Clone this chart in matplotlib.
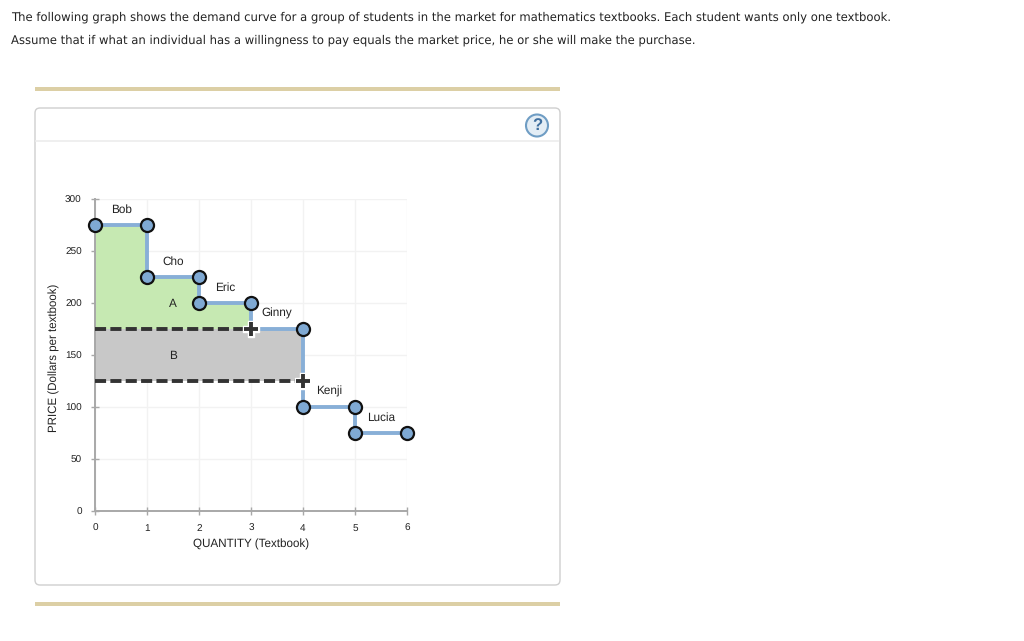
import matplotlib
matplotlib.use("Agg")
import matplotlib.pyplot as plt
from matplotlib.patches import FancyBboxPatch, Rectangle, Circle

W, H = 1024, 641

# demand steps, one per student
students = ["Bob", "Cho", "Eric", "Ginny", "Kenji", "Lucia"]
wtp = [275, 225, 200, 175, 100, 75]
qty_start = [0, 1, 2, 3, 4, 5]
qty_end = [1, 2, 3, 4, 5, 6]
label_x = [0.5, 1.5, 2.5, 3.5, 4.5, 5.5]
label_y = [290, 240, 215, 190, 115, 90]

# step ends that carry a circle (Ginny's left end sits under the price handle)
point_x = [0, 1, 1, 2, 2, 3, 4, 4, 5, 5, 6]
point_y = [275, 275, 225, 225, 200, 200, 175, 100, 100, 75, 75]

price_high = 175
price_low = 125
surplus_a_x = [0, 1, 1, 2, 2, 3, 3]
surplus_a_y = [275, 275, 225, 225, 200, 200, 175]
surplus_b_x = [0, 4]

x_ticks = [0, 1, 2, 3, 4, 5, 6]
y_ticks = [0, 50, 100, 150, 200, 250, 300]

line1 = "The following graph shows the demand curve for a group of students in the market for mathematics textbooks. Each student wants only one textbook."
line2 = "Assume that if what an individual has a willingness to pay equals the market price, he or she will make the purchase."

plt.rcParams["text.hinting"] = "no_hinting"
plt.rcParams["font.family"] = ["Liberation Sans", "DejaVu Sans"]
fig = plt.figure(figsize=(W / 100, H / 100), dpi=100)

# page furniture in pixel coords
bg = fig.add_axes([0, 0, 1, 1])
bg.set_xlim(0, W)
bg.set_ylim(H, 0)
bg.axis("off")
bg.text(11, 17, line1, fontsize=8.38, family="DejaVu Sans", color="#222222", va="center")
bg.text(11, 40, line2, fontsize=8.38, family="DejaVu Sans", color="#222222", va="center")
bg.add_patch(Rectangle((35, 86.5), 525, 4, color="#dccfa5", lw=0))
bg.add_patch(Rectangle((35, 602), 525, 4, color="#dccfa5", lw=0))
bg.add_patch(FancyBboxPatch((38, 111), 519, 471, boxstyle="round,pad=3,rounding_size=5",
                            fc="white", ec="#cfcfcf", lw=1))
bg.plot([36, 558], [140.5, 140.5], color="#ececec", lw=1.2)
bg.add_patch(Circle((537, 125.5), 11, fc="#e3edf5", ec="#6f9dc4", lw=1.5))
bg.text(537, 125.5, "?", fontsize=12, fontweight="bold", color="#3f6f9f", ha="center", va="center")

# chart itself
ax = fig.add_axes([95 / W, 1 - 511 / H, 312 / W, 312 / H])
ax.patch.set_alpha(0)
ax.set_xlim(0, 6)
ax.set_ylim(0, 300)
ax.set_xticks(x_ticks)
ax.set_yticks(y_ticks)
ax.grid(color="#f2f2f2", lw=1)
ax.set_axisbelow(True)
for s in ["top", "right"]:
    ax.spines[s].set_visible(False)
for s in ["left", "bottom"]:
    ax.spines[s].set_color("#a8a8a8")
    ax.spines[s].set_linewidth(1.4)
ax.tick_params(axis="both", direction="inout", length=6, width=1, color="#a8a8a8",
               labelsize=7.2, labelcolor="#222222")
ax.tick_params(axis="x", pad=6)
ax.tick_params(axis="y", pad=6.5)
ax.set_xlabel("QUANTITY (Textbook)", fontsize=8.4, color="#222222", labelpad=4.5)
ax.set_ylabel("PRICE (Dollars per textbook)", fontsize=8.3, color="#222222")
ax.yaxis.set_label_coords(-35 / 312, 0.49)

# shaded areas
ax.fill_between(surplus_a_x, surplus_a_y, price_high, color="#c6e9b2", lw=0, zorder=2)
ax.fill_between(surplus_b_x, price_low, price_high, color="#c8c8c8", lw=0, zorder=2)

# demand curve
steps_x = []
steps_y = []
for q0, q1, p in zip(qty_start, qty_end, wtp):
    steps_x += [q0, q1]
    steps_y += [p, p]
ax.plot(steps_x, steps_y, color="#88afd7", lw=2.8, zorder=3, solid_joinstyle="miter")

# price lines
ax.plot([0, 2.85], [price_high, price_high], color="#333333", lw=2.8, dashes=(2.85, 1.1), zorder=4)
ax.plot([0, 3.85], [price_low, price_low], color="#333333", lw=2.8, dashes=(2.85, 1.1), zorder=4)
ax.plot([3, 4], [price_high, price_low], ls="none", marker="P", ms=12, mfc="white", mec="white", zorder=5)
ax.plot([3, 4], [price_high, price_low], ls="none", marker="+", ms=10, mew=2.8, color="#333333", zorder=6)

# step endpoints
ax.plot(point_x, point_y, ls="none", marker="o", ms=9.4, mfc="#7fa9d3", mec="#111111", mew=1.6,
        zorder=7, clip_on=False)

for name, lx, ly in zip(students, label_x, label_y):
    ax.text(lx, ly, name, fontsize=8.5, color="#222222", ha="center", va="center", zorder=8)
ax.text(1.5, 199, "A", fontsize=8.5, color="#222222", ha="center", va="center", zorder=8)
ax.text(1.5, 149, "B", fontsize=8.5, color="#222222", ha="center", va="center", zorder=8)

fig.savefig("out.png", dpi=100)
